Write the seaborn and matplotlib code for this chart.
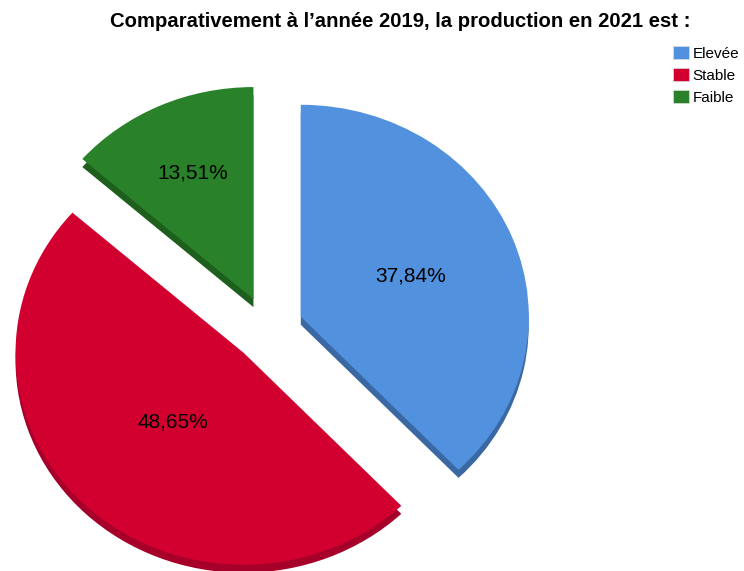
import numpy as np
import seaborn as sns
import matplotlib.pyplot as plt
from matplotlib.patches import Patch

categories = ["Elevée", "Stable", "Faible"]
percents = [37.84, 48.65, 13.51]
title = "Comparativement à l\u2019année 2019, la production en 2021 est :"

colors = ["#5291DE", "#D1002F", "#298229"]
side_colors = ["#3A68A2", "#A6002A", "#1E5F1E"]
explode = [0.155, 0.155, 0.155]
label_dist = [0.52, 0.45, 0.65]

sns.set_theme(style="white")
plt.rcParams["font.family"] = ["Liberation Sans", "DejaVu Sans"]
plt.rcParams["text.color"] = "black"

fig = plt.figure(figsize=(7.44, 5.71), dpi=100)
ax = fig.add_axes([0, 0, 1, 1])

# darker copy slightly lower -> 3d edge
ax.pie(percents, explode=explode, colors=side_colors, startangle=90,
       counterclock=False, center=(0, -0.038), radius=1,
       wedgeprops=dict(linewidth=0))
wedges, _, autotexts = ax.pie(percents, explode=explode, colors=colors,
                              startangle=90, counterclock=False, radius=1,
                              autopct=lambda p: f"{p:.2f}%".replace(".", ","),
                              pctdistance=0.5,
                              wedgeprops=dict(linewidth=0),
                              textprops=dict(fontsize=15, color="black"))

for w, t, e, d in zip(wedges, autotexts, explode, label_dist):
    mid = np.deg2rad((w.theta1 + w.theta2) / 2)
    t.set_position(((e + d) * np.cos(mid), (e + d) * np.sin(mid)))

ax.set_aspect("auto")
ax.set_xlim(-1.1754, 2.0877)
ax.set_ylim(-1.1415, 1.552)
ax.axis("off")

fig.text(0.538, 0.9615, title, ha="center", va="center",
         fontsize=14.6, fontweight="bold", color="black")

handles = [Patch(facecolor=c, edgecolor="#dddddd", linewidth=0.5) for c in colors]
fig.legend(handles, categories, loc="upper left",
           bbox_to_anchor=(0.904, 0.92), frameon=False, fontsize=11,
           handlelength=1.1, handleheight=1.0, handletextpad=0.2,
           labelspacing=0.45, borderpad=0, borderaxespad=0,
           labelcolor="black")

plt.savefig("out.png", dpi=100)
